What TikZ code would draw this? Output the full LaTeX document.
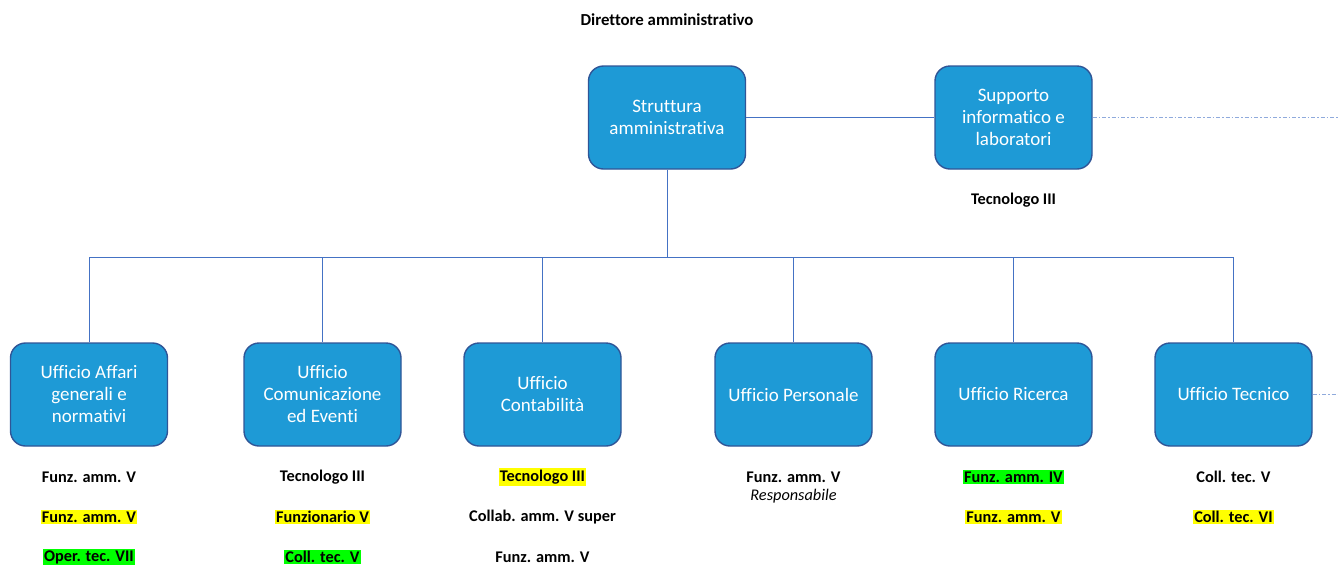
\documentclass[tikz,border=0pt]{standalone}
\usepackage{fontspec}
\setmainfont{Carlito}[Ligatures=CommonOff]
\begin{document}
\begin{tikzpicture}[x=1pt,y=-1pt,
  box/.style={draw=boxborder,line width=1.4pt,fill=boxfill,rounded corners=15pt,
    minimum width=157pt,minimum height=103pt,text=white,align=center,
    font=\fontsize{19}{22}\selectfont,inner sep=2pt},
  lbl/.style={font=\fontsize{16.3}{19}\selectfont\bfseries,inner xsep=1pt,inner ysep=1.5pt,text=black},
  yel/.style={lbl,fill=hlyellow},
  grn/.style={lbl,fill=hlgreen},
  conn/.style={draw=linecol,line width=0.9pt},
  dd/.style={draw=dashcol,line width=1pt,dash pattern=on 4pt off 2pt on 1.5pt off 2pt}
]
\definecolor{boxfill}{HTML}{1E9AD6}
\definecolor{boxborder}{HTML}{2F5597}
\definecolor{linecol}{HTML}{4472C4}
\definecolor{dashcol}{HTML}{8FAADC}
\definecolor{hlyellow}{HTML}{FFFF00}
\definecolor{hlgreen}{HTML}{00FF00}
\useasboundingbox (0,0) rectangle (1338,566);

\node[lbl,font=\fontsize{16.8}{19}\selectfont\bfseries] (dir) at (667,20) {Direttore amministrativo};

\node[box] (sa) at (667,117.5) {Struttura\\amministrativa};
\node[box] (si) at (1013.5,117.5) {Supporto\\informatico e\\laboratori};
\node[lbl] (sit) at (1013.5,200) {Tecnologo III};

\node[box] (u1) at (89,394.5) {Ufficio Affari\\generali e\\normativi};
\node[box] (u2) at (322.5,394.5) {Ufficio\\Comunicazione\\ed Eventi};
\node[box] (u3) at (542.5,394.5) {Ufficio\\Contabilità};
\node[box] (u4) at (793.5,394.5) {Ufficio Personale};
\node[box] (u5) at (1013.5,394.5) {Ufficio Ricerca};
\node[box] (u6) at (1233.5,394.5) {Ufficio Tecnico};

\coordinate (bus) at (667,257);
\coordinate (e1) at (1338,117.5);
\coordinate (e2) at (1338,394.5);

\draw[conn] (sa) -- (si);
\draw[conn] (sa.south) -- (bus);
\foreach \u in {u1,u2,u3,u4,u5,u6}{
  \draw[conn] (bus) -| (\u.north);
}
\draw[dd] (si.east) -- (e1);
\draw[dd] (u6.east) -- (e2);

% labels
\node[lbl] (a1) at (89,477) {Funz. amm. V};
\node[yel] (a2) at (89,517) {Funz. amm. V};
\node[grn] (a3) at (89,557) {Oper. tec. VII};

\node[lbl] (b1) at (322.5,477) {Tecnologo III};
\node[yel] (b2) at (322.5,517) {Funzionario V};
\node[grn] (b3) at (322.5,557) {Coll. tec. V};

\node[yel] (c1) at (542.5,477) {Tecnologo III};
\node[lbl] (c2) at (542.5,517) {Collab. amm. V super};
\node[lbl] (c3) at (542.5,557) {Funz. amm. V};

\node[lbl] (d1) at (793.5,477) {Funz. amm. V};
\node[lbl,font=\fontsize{16.3}{19}\selectfont\itshape] (d2) at (793.5,496) {Responsabile};

\node[grn] (f1) at (1013.5,477) {Funz. amm. IV};
\node[yel] (f2) at (1013.5,517) {Funz. amm. V};

\node[lbl] (g1) at (1233.5,477) {Coll. tec. V};
\node[yel] (g2) at (1233.5,517) {Coll. tec. VI};
\end{tikzpicture}
\end{document}
